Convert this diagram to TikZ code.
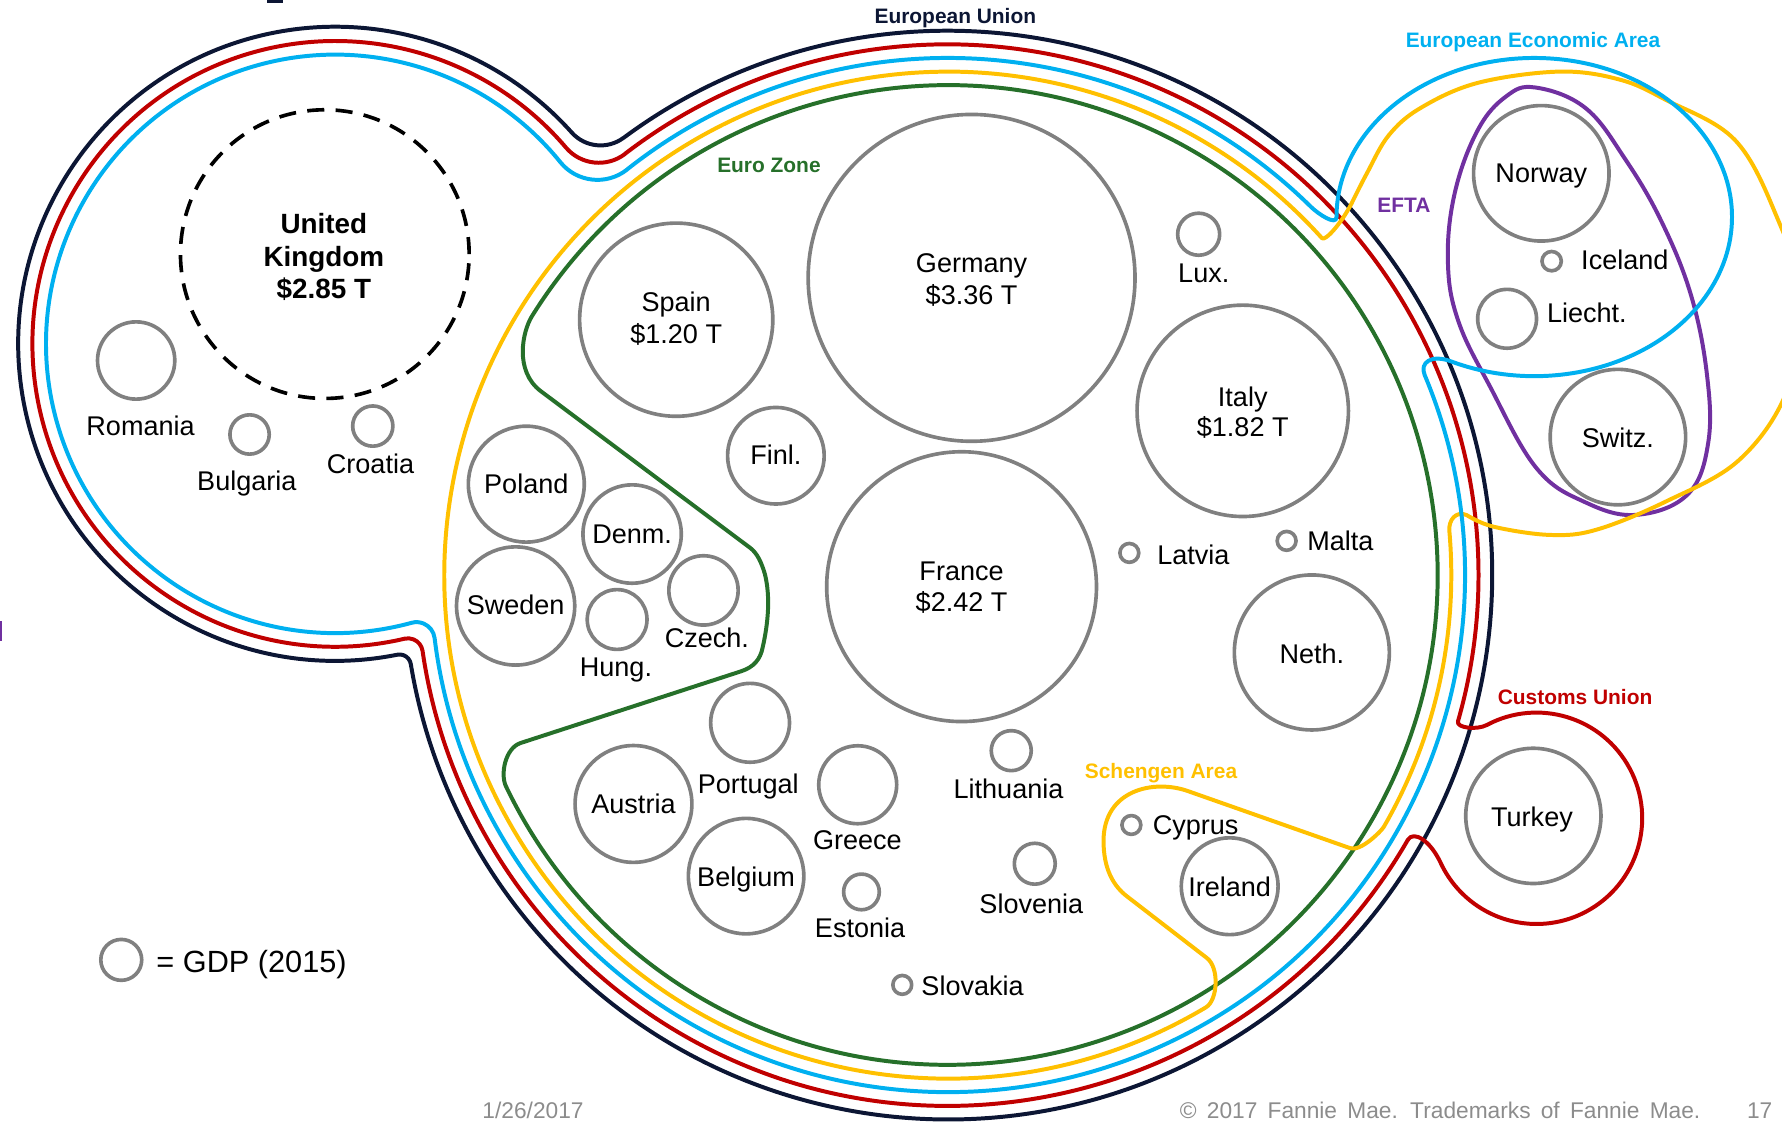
\documentclass[tikz,border=0pt]{standalone}
\usepackage{fontspec}
\setmainfont{Liberation Sans}
\definecolor{cNavy}{RGB}{12,22,52}
\definecolor{cRed}{RGB}{192,0,0}
\definecolor{cBlue}{RGB}{0,176,240}
\definecolor{cYellow}{RGB}{255,192,0}
\definecolor{cGreen}{RGB}{38,112,42}
\definecolor{cPurple}{RGB}{112,48,160}
\definecolor{cGray}{RGB}{128,128,128}
\definecolor{cFoot}{RGB}{140,140,140}
\begin{document}
\begin{tikzpicture}[x=1pt,y=1pt,line cap=round,line join=round,
  ring/.style={line width=3.5pt},
  cty/.style={circle,draw=cGray,line width=3.2pt,inner sep=0pt},
  lbl/.style={font=\fontsize{23.8}{28}\selectfont,anchor=base,inner sep=0pt,text=black},
  grp/.style={font=\bfseries\fontsize{18.4}{22}\selectfont,anchor=base,inner sep=0pt},
  ukt/.style={font=\bfseries\fontsize{24.5}{28}\selectfont,anchor=base,inner sep=0pt,text=black},
  foot/.style={font=\fontsize{20}{24}\selectfont,anchor=base,inner sep=0pt,text=cFoot}]

\useasboundingbox (0,0) rectangle (1568,-987);

% slide edge marks
\fill[cNavy] (234.5,0) rectangle (249.4,-2.4);
\fill[cPurple] (0,-546.8) rectangle (2,-563.8);

% ---- European Union (navy)
\draw[ring,cNavy] (548.7,-121.3)
  arc[start angle=126.56, end angle=-170.60, radius=479]
  arc[start angle=9.40, end angle=101.29, radius=10]
  arc[start angle=-78.71, end angle=-318.22, radius=279]
  arc[start angle=221.78, end angle=306.56, radius=34] -- cycle;

% ---- Customs Union (red)
\draw[ring,cRed] (549.94,-135.33)
  arc[start angle=127.46, end angle=-16, radius=467]
  .. controls (1281.2,-640.5) and (1299.5,-642.6) .. (1308.3,-637.9)
  arc[start angle=118, end angle=-155, radius=93]
  .. controls (1258.4,-739.4) and (1243.7,-730.4) .. (1238.68,-739.10)
  arc[start angle=-29.94, end angle=-171.78, radius=467]
  arc[start angle=8.22, end angle=103.22, radius=13]
  arc[start angle=-76.78, end angle=-319.60, radius=266.5]
  arc[start angle=220.40, end angle=307.46, radius=38] -- cycle;

% ---- EFTA (purple)
\draw[ring,cPurple] plot[smooth cycle,tension=0.65] coordinates {
  (1351,-77) (1395,-95) (1430,-140) (1462,-195) (1488,-260) (1502,-330)
  (1503,-390) (1485,-435) (1440,-453) (1395,-442) (1352,-412) (1311,-340)
  (1283,-282) (1274,-230) (1280,-170) (1300,-115) (1325,-85)};

% ---- Euro Zone (green)
\draw[ring,cGreen] (467.9,-278.5)
  arc[start angle=148.15, end angle=-154.44, radius=431]
  .. controls (440,-681.1) and (444.7,-658.2) .. (458,-653.8)
  -- (652,-590.7)
  .. controls (663.4,-587) and (669,-580) .. (671,-570)
  .. controls (676,-548) and (678,-525) .. (673,-505)
  .. controls (670,-495) and (666.4,-486.8) .. (660,-482)
  -- (476,-344.3)
  .. controls (452,-326.3) and (460,-291.3) .. (467.9,-278.5) -- cycle;

% ---- Schengen Area (yellow)
\draw[ring,cYellow] (834,-63)
  arc[start angle=90, end angle=42, radius=443]
  .. controls (1165.9,-212.6) and (1180.2,-196.7) .. (1189.3,-178.9)
  -- plot[smooth,tension=0.6] coordinates {(1189.3,-178.9) (1203,-152) (1222,-119)
     (1250,-95) (1300,-73) (1372,-63) (1425,-70) (1466,-88) (1526.6,-123.2)
     (1563.3,-190.6) (1586,-265) (1572,-345) (1530,-405) (1466,-441.2)
     (1405,-466) (1364,-470.7) (1314,-463.4) (1290.5,-453.2)}
  .. controls (1281.3,-449.2) and (1274.4,-457.4) .. (1275.31,-467.39)
  arc[start angle=5, end angle=-30, radius=443]
  .. controls (1215.65,-730.96) and (1197.4,-749.6) .. (1188,-746.3)
  -- (1045,-696)
  .. controls (1015,-685.5) and (971,-695) .. (971,-740)
  .. controls (971,-765) and (980,-780) .. (992,-789)
  -- (1062,-843)
  .. controls (1073.1,-851.6) and (1071.5,-880.1) .. (1061.17,-886.32)
  arc[start angle=-59.14, end angle=-270, radius=443] -- cycle;

% ---- European Economic Area (blue)
\draw[ring,cBlue] (551.79,-149.09)
  arc[start angle=128.34, end angle=45.5, radius=455]
  .. controls (1160.0,-188.5) and (1176,-199) .. (1176,-191)
  arc[start angle=180, end angle=-115, x radius=174, y radius=140]
  .. controls (1259.6,-311.6) and (1248.9,-318.9) .. (1253.57,-329.98)
  arc[start angle=22.76, end angle=-173.00, radius=455]
  arc[start angle=7.00, end angle=105.33, radius=16]
  arc[start angle=-74.67, end angle=-321.08, radius=254.5]
  arc[start angle=218.92, end angle=308.34, radius=42] -- cycle;

% ---- country circles
\node[circle,draw=black,line width=3.2pt,inner sep=0pt,dash pattern=on 15pt off 10pt,line cap=butt,minimum size=254pt] (cUK) at (285.8,-223.6) {};
\node[cty,minimum size=68pt]    (cRomania)  at (119.8,-317.2) {};
\node[cty,minimum size=34.6pt]  (cBulgaria) at (219.6,-382.3) {};
\node[cty,minimum size=35.4pt]  (cCroatia)  at (328,-374.9) {};
\node[cty,minimum size=170pt]   (cSpain)    at (595,-281.3) {};
\node[cty,minimum size=287.6pt] (cGermany)  at (854.9,-244.5) {};
\node[cty,minimum size=37pt]    (cLux)      at (1054.7,-206.1) {};
\node[cty,minimum size=186pt]   (cItaly)    at (1093.5,-361.5) {};
\node[cty,minimum size=85pt]    (cFinl)     at (682.7,-401) {};
\node[cty,minimum size=102pt]   (cPoland)   at (463.1,-426) {};
\node[cty,minimum size=86.6pt]  (cDenm)     at (556.2,-469.9) {};
\node[cty,minimum size=104pt]   (cSweden)   at (453.7,-533.2) {};
\node[cty,minimum size=61pt]    (cCzech)    at (619,-519.5) {};
\node[cty,minimum size=52.6pt]  (cHung)     at (543,-545.1) {};
\node[cty,minimum size=237.4pt] (cFrance)   at (846.1,-516.2) {};
\node[cty,minimum size=16.6pt]  (cLatvia)   at (993.7,-486.5) {};
\node[cty,minimum size=16.6pt]  (cMalta)    at (1132.1,-475.9) {};
\node[cty,minimum size=136.4pt] (cNeth)     at (1154.3,-574.1) {};
\node[cty,minimum size=69.4pt]  (cPortugal) at (660,-636) {};
\node[cty,minimum size=102.8pt] (cAustria)  at (557.4,-707.4) {};
\node[cty,minimum size=68.6pt]  (cGreece)   at (754.7,-690.5) {};
\node[cty,minimum size=101.6pt] (cBelgium)  at (656.5,-770.9) {};
\node[cty,minimum size=31.4pt]  (cEstonia)  at (758,-784.8) {};
\node[cty,minimum size=35.2pt]  (cLithuania) at (889.8,-660.5) {};
\node[cty,minimum size=36pt]    (cSlovenia) at (910.5,-760) {};
\node[cty,minimum size=16.6pt]  (cSlovakia) at (793.9,-866.6) {};
\node[cty,minimum size=16.6pt]  (cCyprus)   at (995.5,-725.9) {};
\node[cty,minimum size=85.2pt]  (cIreland)  at (1082,-779.8) {};
\node[cty,minimum size=119.2pt] (cNorway)   at (1356.2,-152.5) {};
\node[cty,minimum size=17pt]    (cIceland)  at (1365.3,-229.8) {};
\node[cty,minimum size=51.8pt]  (cLiecht)   at (1326.1,-280.5) {};
\node[cty,minimum size=119.2pt] (cSwitz)    at (1423.6,-384.6) {};
\node[cty,minimum size=119pt]   (cTurkey)   at (1349.2,-717.9) {};
\node[cty,minimum size=36pt]    (cLegend)   at (106.7,-844.6) {};

% ---- country labels
\node[ukt] (tUKa) at (285,-205.3) {United};
\node[ukt] (tUKb) at (285,-234.7) {Kingdom};
\node[ukt] (tUKc) at (285,-262.5) {\$2.85 T};
\node[lbl] (tRomania)  at (123.7,-383.3) {Romania};
\node[lbl] (tBulgaria) at (217.2,-431.7) {Bulgaria};
\node[lbl] (tCroatia)  at (326,-416.5) {Croatia};
\node[lbl] (tSpainA)   at (595,-274.5) {Spain};
\node[lbl] (tSpainB)   at (595,-302.5) {\$1.20 T};
\node[lbl] (tGermanyA) at (854.9,-240.2) {Germany};
\node[lbl] (tGermanyB) at (854.9,-268.1) {\$3.36 T};
\node[lbl] (tLux)      at (1059.2,-249) {Lux.};
\node[lbl] (tItalyA)   at (1093.5,-357.3) {Italy};
\node[lbl] (tItalyB)   at (1093.5,-384.5) {\$1.82 T};
\node[lbl] (tFinl)     at (682.7,-408.5) {Finl.};
\node[lbl] (tPoland)   at (463.1,-434.5) {Poland};
\node[lbl] (tDenm)     at (556.2,-478.5) {Denm.};
\node[lbl] (tSweden)   at (453.7,-541) {Sweden};
\node[lbl] (tCzech)    at (622,-570) {Czech.};
\node[lbl] (tHung)     at (542,-594.9) {Hung.};
\node[lbl] (tFranceA)  at (846.1,-511.2) {France};
\node[lbl] (tFranceB)  at (846.1,-538.4) {\$2.42 T};
\node[lbl] (tLatvia)   at (1050.1,-496.9) {Latvia};
\node[lbl] (tMalta)    at (1179.4,-484.4) {Malta};
\node[lbl] (tNeth)     at (1154.3,-583.5) {Neth.};
\node[lbl] (tPortugal) at (658.4,-698.6) {Portugal};
\node[lbl] (tAustria)  at (557.4,-715.5) {Austria};
\node[lbl] (tGreece)   at (754.4,-747.6) {Greece};
\node[lbl] (tBelgium)  at (656.5,-779.7) {Belgium};
\node[lbl] (tEstonia)  at (756.8,-825) {Estonia};
\node[lbl] (tLithuania) at (887.4,-702.4) {Lithuania};
\node[lbl] (tSlovenia) at (907.5,-803.5) {Slovenia};
\node[lbl] (tSlovakia) at (855.8,-875.9) {Slovakia};
\node[lbl] (tCyprus)   at (1052,-734.4) {Cyprus};
\node[lbl] (tIreland)  at (1082,-788.5) {Ireland};
\node[lbl] (tTurkey)   at (1348,-727) {Turkey};
\node[lbl] (tNorway)   at (1356.2,-160.5) {Norway};
\node[lbl] (tIceland)  at (1429.7,-237.3) {Iceland};
\node[lbl] (tLiecht)   at (1396.3,-284.2) {Liecht.};
\node[lbl] (tSwitz)    at (1423.6,-393.5) {Switz.};

% ---- group labels
\node[grp,text=cNavy]   (gEU)   at (840.6,-20.7) {European Union};
\node[grp,text=cBlue]   (gEEA)  at (1348.9,-41.8) {European Economic Area};
\node[grp,text=cGreen]  (gEZ)   at (676.6,-151.8) {Euro Zone};
\node[grp,text=cPurple] (gEFTA) at (1235.3,-187) {EFTA};
\node[grp,text=cRed]    (gCU)   at (1385.9,-619.5) {Customs Union};
\node[grp,text=cYellow] (gSA)   at (1021.6,-684.7) {Schengen Area};

% ---- legend and footer
\node[font=\fontsize{27}{32}\selectfont,anchor=base west,inner sep=0pt] (tLegend) at (137.5,-856) {= GDP (2015)};
\node[foot] (fDate) at (469,-984.5) {1/26/2017};
\node[foot,anchor=base west] (fCopy) at (1038,-984.5) {\spaceskip=0.45em\relax © 2017 Fannie Mae. Trademarks of Fannie Mae.};
\node[foot,anchor=base west] (fPage) at (1537,-984.5) {17};
\end{tikzpicture}
\end{document}
